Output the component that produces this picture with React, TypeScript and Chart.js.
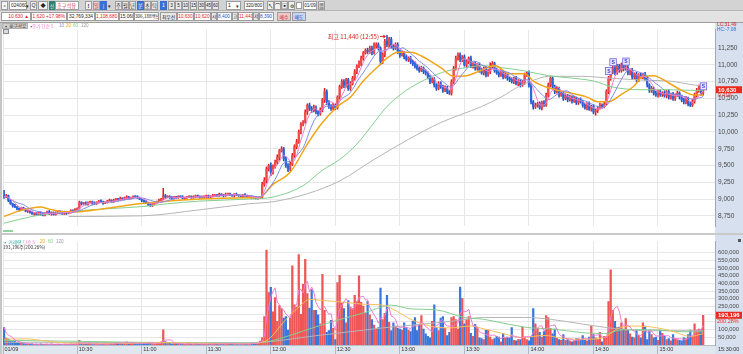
import React, { useEffect, useRef } from 'react';
import { Chart, registerables } from 'chart.js';

Chart.register(...registerables);

// ---------------- data ----------------
const STOCK_NAME = '흥구석유';
const STOCK_CODE = '024060';
const TIME_TICK_IDX = [-0.5, 34, 64, 94, 124, 154, 184, 214, 244, 274, 304];
const TIME_TICK_LABELS = ['01/09', '10:30', '11:00', '11:30', '12:00', '12:30', '13:00', '13:30', '14:00', '14:30', '15:00'];
const PRICE_TICKS = [8750, 9000, 9250, 9500, 9750, 10000, 10250, 10500, 10750, 11000, 11250];
const VOLUME_TICKS = [50000, 100000, 150000, 200000, 250000, 300000, 350000, 400000, 450000, 500000, 550000, 600000];
const HIDDEN_VOLUME_TICKS = [150000, 200000];

// 1-minute candles, prices in units of 10 won
const closes = [
  903, 905, 898, 893, 890, 888, 886, 884, 887, 885, 882,
  882, 880, 878, 879, 877, 880, 878, 876, 879, 881, 878, 880, 877, 879, 882, 880, 878, 881, 879, 880, 883,
  882, 884, 886,
  895,
  893, 894, 892, 895, 896, 894, 893, 895, 897, 896, 894, 895, 897, 898, 896,
  898, 900, 899, 901, 900, 902, 903, 901, 902, 904, 903, 902, 900, 898,
  896, 894, 892, 890, 893, 895, 896, 898,
  900, 905,
  903, 904, 902, 901, 903, 902, 904, 903, 901, 902, 903, 904, 902, 903, 905, 904, 902, 903, 904, 905, 903,
  904, 905, 906, 905, 907, 906, 905, 907, 908, 906, 905, 907, 906, 905, 904, 906, 905, 903, 904,
  903, 902, 901, 902, 903,
  922,
  928, 945, 950, 940, 948,
  955, 962, 972, 975,
  960, 950, 945, 952,
  965, 978, 985,
  1000, 1012, 1015,
  1030, 1040,
  1035, 1032, 1036, 1030, 1027, 1033,
  1048, 1060,
  1045, 1038, 1035, 1040, 1036,
  1052, 1068,
  1075, 1070, 1078, 1065, 1072, 1080,
  1090, 1098, 1102,
  1110, 1118, 1122, 1120,
  1125, 1118, 1128,
  1130, 1125,
  1105,
  1115, 1135,
  1130, 1138, 1128, 1125, 1130,
  1120, 1115, 1118, 1112, 1108, 1110, 1105, 1102,
  1098, 1095, 1092, 1095, 1090, 1088,
  1082, 1075, 1078, 1070, 1065, 1072, 1068,
  1062, 1066, 1060, 1058,
  1075, 1095, 1110, 1115,
  1108, 1112, 1100, 1105, 1110, 1098, 1102, 1095, 1100, 1092,
  1088, 1095, 1085, 1090, 1098, 1102,
  1092, 1088, 1085, 1090, 1082, 1086, 1080,
  1078, 1075, 1080, 1072, 1076, 1070, 1074,
  1085, 1088,
  1070, 1045, 1038,
  1040, 1042, 1036, 1044, 1040,
  1055, 1070, 1080,
  1068, 1060, 1065, 1055, 1058, 1050, 1054,
  1048, 1052, 1046, 1050, 1044, 1048, 1045,
  1040, 1036, 1042, 1034, 1038, 1030, 1032,
  1036, 1040, 1038, 1042,
  1060, 1080, 1090,
  1095, 1088, 1098, 1092, 1100, 1094, 1096,
  1088, 1092, 1082, 1086, 1078, 1085,
  1082, 1086, 1080,
  1070, 1062, 1065, 1058, 1055, 1060, 1056,
  1058, 1054, 1060, 1052, 1056, 1050, 1055, 1058, 1052,
  1048, 1045, 1050, 1042, 1040, 1046,
  1055, 1062, 1068, 1058, 1063,
];

const opens = [
  904, 903, 905, 898, 893, 890, 888, 886, 884, 887, 885,
  882, 882, 880, 878, 879, 877, 880, 878, 876, 879, 881, 878, 880, 877, 879, 882, 880, 878, 881, 879, 880,
  883, 882, 884,
  886,
  895, 893, 894, 892, 895, 896, 894, 893, 895, 897, 896, 894, 895, 897, 898,
  896, 898, 900, 899, 901, 900, 902, 903, 901, 902, 904, 903, 902, 900,
  898, 896, 894, 892, 890, 893, 895, 896,
  898, 900,
  905, 903, 904, 902, 901, 903, 902, 904, 903, 901, 902, 903, 904, 902, 903, 905, 904, 902, 903, 904, 905,
  903, 904, 905, 906, 905, 907, 906, 905, 907, 908, 906, 905, 907, 906, 905, 904, 906, 905, 903,
  904, 903, 902, 901, 902,
  903,
  922, 928, 945, 950, 940,
  948, 955, 962, 972,
  975, 960, 950, 945,
  952, 965, 978,
  985, 1000, 1012,
  1015, 1030,
  1040, 1035, 1032, 1036, 1030, 1027,
  1033, 1048,
  1060, 1045, 1038, 1035, 1040,
  1036, 1052,
  1068, 1075, 1070, 1078, 1065, 1072,
  1080, 1090, 1098,
  1102, 1110, 1118, 1122,
  1120, 1125, 1118,
  1128, 1130,
  1125,
  1105, 1115,
  1135, 1130, 1138, 1128, 1125,
  1130, 1120, 1115, 1118, 1112, 1108, 1110, 1105,
  1102, 1098, 1095, 1092, 1095, 1090,
  1088, 1082, 1075, 1078, 1070, 1065, 1072,
  1068, 1062, 1066, 1060,
  1058, 1075, 1095, 1110,
  1115, 1108, 1112, 1100, 1105, 1110, 1098, 1102, 1095, 1100,
  1092, 1088, 1095, 1085, 1090, 1098,
  1102, 1092, 1088, 1085, 1090, 1082, 1086,
  1080, 1078, 1075, 1080, 1072, 1076, 1070,
  1074, 1085,
  1088, 1070, 1045,
  1038, 1040, 1042, 1036, 1044,
  1040, 1055, 1070,
  1080, 1068, 1060, 1065, 1055, 1058, 1050,
  1054, 1048, 1052, 1046, 1050, 1044, 1048,
  1045, 1040, 1036, 1042, 1034, 1038, 1030,
  1032, 1036, 1040, 1038,
  1042, 1060, 1080,
  1090, 1095, 1088, 1098, 1092, 1100, 1094,
  1096, 1088, 1092, 1082, 1086, 1078,
  1085, 1082, 1086,
  1080, 1070, 1062, 1065, 1058, 1055, 1060,
  1056, 1058, 1054, 1060, 1052, 1056, 1050, 1055, 1058,
  1052, 1048, 1045, 1050, 1042, 1040,
  1046, 1055, 1062, 1068, 1058,
];

// wick lengths above / below the body, units of 10 won
const wickUp = [
  9, 2, 1, 1, 1, 2, 1, 1, 1, 1, 1, 1, 1, 2, 1, 1, 1, 1, 2, 1, 1, 2, 1, 1, 2, 1, 1, 2, 1, 1,
  1, 1, 1, 2, 1, 2, 1, 1, 2, 1, 1, 1, 2, 1, 1, 2, 1, 1, 1, 2, 1, 2, 1, 1, 2, 1, 1, 2, 1, 1,
  1, 1, 2, 1, 1, 1, 2, 1, 1, 1, 1, 1, 2, 1, 11, 2, 1, 1, 2, 1, 1, 1, 1, 2, 1, 1, 1, 1, 2, 1,
  1, 1, 2, 1, 1, 1, 1, 2, 1, 1, 2, 1, 1, 2, 1, 1, 1, 1, 2, 1, 1, 1, 2, 1, 1, 1, 1, 2, 1, 1,
  3, 4, 3, 2, 4, 3, 3, 4, 2, 3, 2, 3, 3, 4, 3, 3, 4, 3, 2, 2, 3, 2, 3, 3, 4, 3, 2, 3, 2, 5,
  3, 2, 3, 3, 2, 2, 2, 3, 3, 2, 2, 3, 3, 3, 2, 4, 3, 2, 2, 3, 3, 3, 5, 3, 3, 2, 3, 3, 9, 3,
  3, 2, 3, 3, 2, 3, 2, 3, 2, 3, 2, 3, 3, 2, 3, 2, 3, 2, 3, 3, 3, 2, 3, 3, 2, 3, 2, 2, 3, 3,
  3, 3, 3, 2, 3, 3, 2, 3, 2, 3, 2, 3, 3, 2, 3, 3, 5, 3, 2, 3, 2, 3, 2, 3, 2, 2, 3, 2, 3, 2,
  2, 3, 3, 2, 3, 3, 2, 3, 2, 3, 2, 3, 3, 3, 3, 3, 2, 3, 2, 3, 2, 3, 2, 3, 2, 3, 2, 2, 3, 2,
  3, 2, 3, 2, 3, 2, 2, 3, 2, 3, 3, 3, 3, 3, 4, 3, 3, 3, 2, 3, 3, 2, 3, 2, 3, 2, 3, 2, 3, 2,
  2, 3, 2, 3, 2, 3, 2, 3, 2, 3, 2, 3, 2, 3, 2, 3, 2, 3, 2, 3, 3, 3, 3, 2, 3, 2,
];
const wickDown = [
  2, 1, 2, 1, 2, 1, 2, 1, 1, 1, 1, 2, 1, 1, 2, 1, 1, 2, 1, 1, 1, 1, 2, 1, 1, 1, 2, 1, 1, 2,
  1, 1, 2, 1, 1, 1, 2, 1, 1, 1, 1, 2, 1, 1, 1, 1, 2, 1, 1, 1, 1, 1, 1, 2, 1, 1, 1, 2, 1, 1,
  1, 1, 1, 1, 2, 1, 1, 2, 1, 1, 1, 1, 1, 2, 1, 2, 1, 1, 1, 1, 1, 1, 1, 1, 2, 1, 1, 1, 1, 1,
  1, 1, 1, 1, 2, 1, 1, 1, 1, 1, 1, 1, 2, 1, 1, 1, 1, 2, 1, 1, 1, 2, 1, 1, 1, 2, 1, 1, 1, 1,
  1, 3, 4, 3, 5, 3, 2, 3, 4, 2, 3, 3, 4, 3, 2, 3, 3, 2, 3, 3, 2, 4, 3, 3, 2, 3, 3, 2, 3, 4,
  4, 3, 3, 2, 3, 2, 3, 3, 4, 3, 3, 3, 2, 3, 3, 2, 3, 3, 2, 3, 3, 3, 2, 3, 3, 5, 3, 3, 3, 4,
  3, 3, 2, 3, 4, 2, 3, 2, 3, 3, 3, 3, 3, 3, 2, 3, 3, 3, 3, 2, 3, 3, 2, 3, 3, 2, 3, 2, 3, 3,
  3, 3, 3, 3, 2, 3, 3, 2, 3, 3, 3, 3, 2, 3, 3, 2, 3, 3, 3, 2, 3, 2, 3, 2, 3, 3, 2, 3, 2, 3,
  3, 2, 3, 2, 3, 3, 4, 3, 3, 2, 3, 2, 2, 3, 3, 3, 3, 2, 3, 2, 3, 2, 3, 2, 3, 2, 3, 3, 2, 3,
  2, 3, 2, 3, 3, 5, 3, 2, 3, 2, 2, 3, 3, 3, 3, 2, 3, 3, 3, 2, 3, 3, 3, 3, 3, 3, 2, 3, 3, 3,
  3, 3, 3, 2, 3, 3, 3, 2, 3, 3, 3, 3, 3, 2, 3, 3, 3, 3, 3, 2, 2, 3, 3, 3, 3, 3,
];

// volume per minute, thousands of shares
const volumes = [
  113, 45, 38, 30, 22, 26, 15, 12, 14, 9, 8,
  6, 5, 7, 4, 6, 5, 8, 4, 5, 6, 3, 7, 5, 4, 6, 5, 3, 6, 4, 5, 7, 4, 6, 8,
  30,
  12, 8, 6, 9, 7, 5, 6, 8, 5, 4, 6, 7, 5, 9, 6,
  10, 14, 18, 12, 9, 16, 20, 8, 12, 15, 10, 7, 11, 9,
  14, 12, 18, 16, 10, 8, 9, 11,
  20, 98,
  22, 15, 12, 8, 10, 7, 9, 6, 8, 5, 7, 9, 6, 5, 8, 6, 4, 7, 5, 6, 8,
  6, 9, 7, 5, 8, 6, 10, 12, 7, 5, 8, 6, 9, 7, 5, 8, 6, 7, 9,
  12, 15, 10, 18, 26,
  49, 185,
  617, 340, 375, 216, 309, 154, 257, 237, 175, 185,
  97, 175, 515, 261, 247, 587, 200, 395, 556, 335,
  240,
  360, 226, 226, 196, 138, 459, 226, 82, 93, 161,
  109, 35, 405, 453, 272, 237, 144, 288, 247, 237,
  323, 282, 449, 278, 253, 206, 282, 196, 165, 130,
  103, 113, 370, 165, 206, 323, 148, 93, 144, 123,
  110,
  103, 97, 144, 113, 97, 88, 154, 179, 93, 134,
  191, 103, 72, 56, 47, 154, 261, 113, 93, 175,
  185, 109, 62, 82, 179, 185, 165, 103, 377, 303,
  138, 165, 185, 76, 56, 134, 117, 47, 41, 35,
  97, 97, 51, 35, 41, 56, 51, 21, 76, 47,
  51, 47, 113, 31, 27, 35, 35, 117, 51, 35,
  27, 51, 237, 138, 109, 82, 51, 88, 191, 179,
  109, 72, 103, 47, 35, 31, 68, 31, 35, 27,
  21, 27, 41, 41, 35, 62, 31, 27, 51, 123,
  68, 47, 35, 82, 21, 56, 56, 282, 488, 226,
  154, 113, 117, 144, 103, 171, 97, 72, 51, 47,
  97, 62, 47, 144, 123, 35, 93, 68, 47, 51,
  31, 97, 76, 56, 35, 41, 27, 68, 41, 35,
  31, 27, 47, 41, 68, 97, 56, 138, 97, 103,
  100, 193,
];

// moving-average lines: [bar index, value]
const priceMa20 = [[0, 874], [7, 882], [17, 888], [21, 885], [29, 881], [34, 881], [45, 885], [60, 892], [73, 896], [91, 900], [114, 902], [119, 903], [125, 922], [133, 940], [141, 982], [147, 1010], [155, 1038], [161, 1052], [167, 1076], [174, 1098], [178, 1110], [183, 1119], [189, 1119], [197, 1108], [203, 1096], [209, 1083], [215, 1084], [222, 1092], [228, 1099], [235, 1087], [242, 1087], [246, 1076], [253, 1066], [262, 1059], [271, 1052], [276, 1045], [281, 1045], [287, 1056], [293, 1069], [297, 1083], [302, 1084], [309, 1073], [315, 1062], [321, 1055], [325, 1055]];
const priceMa60 = [[0, 864], [13, 874], [29, 881], [45, 885], [65, 889], [76, 893], [91, 897], [114, 900], [125, 903], [139, 920], [148, 943], [156, 959], [164, 982], [172, 1014], [178, 1038], [187, 1062], [197, 1080], [206, 1091], [215, 1096], [222, 1099], [231, 1096], [242, 1091], [253, 1084], [262, 1081], [274, 1076], [283, 1067], [296, 1063], [309, 1063], [321, 1062], [325, 1062]];
const priceMa120 = [[30, 874], [64, 875], [91, 884], [114, 893], [125, 896], [141, 908], [156, 927], [172, 959], [188, 989], [203, 1014], [222, 1038], [231, 1052], [240, 1069], [246, 1077], [253, 1083], [268, 1083], [283, 1080], [299, 1077], [309, 1076], [321, 1070], [325, 1069]];
const volMa20 = [[0, 38], [10, 40], [20, 25], [30, 12], [45, 9], [60, 11], [75, 15], [90, 12], [110, 8], [119, 14], [124, 50], [130, 150], [138, 259], [142, 296], [148, 290], [158, 278], [167, 265], [176, 259], [183, 216], [189, 167], [198, 123], [207, 111], [217, 123], [223, 105], [232, 74], [241, 49], [251, 62], [260, 43], [269, 37], [279, 49], [285, 105], [291, 123], [301, 117], [310, 93], [319, 56], [325, 74]];
const volMa60 = [[0, 30], [30, 25], [60, 18], [90, 14], [114, 12], [122, 20], [130, 49], [146, 123], [158, 173], [169, 216], [180, 259], [189, 235], [201, 228], [214, 179], [223, 167], [232, 142], [245, 111], [254, 105], [269, 80], [279, 74], [288, 99], [301, 99], [316, 86], [325, 86]];
const volMa120 = [[0, 18], [60, 16], [114, 15], [146, 62], [176, 111], [208, 154], [223, 179], [242, 179], [254, 167], [269, 136], [285, 105], [301, 93], [325, 93]];

const HIGH_IDX = 178;
const HIGH_PRICE = 11440;
const HIGH_LABEL = '최고 11,440 (12:55)';
const SIGNAL_IDX = [281, 283, 289, 325];
const SIGNAL_PRICE = [10910, 11040, 11050, 10680];
const LAST_PRICE = 10630;
const LAST_PRICE_LABEL = '10,630';
const LAST_PRICE_PCT = '0.41%';
const LAST_VOLUME = 193196;
const LAST_VOLUME_LABEL = '193,196';
const LAST_VOLUME_PCT = '200.28%';

// ---------------- styling ----------------
const FONT = '"Noto Sans CJK KR", "Liberation Sans", sans-serif';
const NUM_FONT = '"Liberation Sans", "DejaVu Sans", sans-serif';
const C_MA5 = '#f07ccf';
const C_MA10 = '#7e8be6';
const C_MA20 = '#f2a516';
const C_MA60 = '#84cf8e';
const C_MA120 = '#b5b5b5';
const UP_BODY = '#f04b4b';
const UP_WICK = '#e21a1a';
const DN_BODY = '#2b67d9';
const DN_WICK = '#1c50c2';
const GRID = '#e7e7e7';
const AXIS_BG = '#d6e0ee';

Chart.defaults.font.family = NUM_FONT;

function movingAverage(vals: number[], n: number): number[] {
  return vals.map((_, i) => {
    const s = Math.max(0, i - n + 1);
    let sum = 0;
    for (let k = s; k <= i; k++) sum += vals[k];
    return sum / (i - s + 1);
  });
}

const fmt = (v: number) => Number(v).toLocaleString('en-US');
const isUp = closes.map((c, i) => c >= opens[i]);

function lineDs(label: string, data: any[], color: string, width = 1, smooth = false) {
  return {
    type: 'line', label, data, borderColor: color, borderWidth: width, pointRadius: 0,
    fill: false, order: 0, tension: 0, cubicInterpolationMode: smooth ? 'monotone' : 'default',
  };
}

const xCommon = {
  type: 'linear', min: -0.5, max: 330.5, offset: false,
  afterBuildTicks: (s: any) => { s.ticks = TIME_TICK_IDX.map((v) => ({ value: v })); },
};

function priceConfig(): any {
  const ma5 = movingAverage(closes, 5).map((v, i) => ({ x: i, y: v * 10 }));
  const ma10 = movingAverage(closes, 10).map((v, i) => ({ x: i, y: v * 10 }));
  const pts = (arr: number[][]) => arr.map(([i, v]) => ({ x: i, y: v * 10 }));
  const overlay = {
    id: 'priceOverlay',
    afterDatasetsDraw(chart: any) {
      const { ctx, scales, chartArea } = chart;
      const x = scales.x, y = scales.y;
      ctx.save();
      // high annotation
      const hx = x.getPixelForValue(HIGH_IDX);
      const hy = y.getPixelForValue(HIGH_PRICE) + 1;
      ctx.fillStyle = '#e0201a';
      ctx.strokeStyle = '#e0201a';
      ctx.font = `6px ${FONT}`;
      ctx.textAlign = 'right';
      ctx.textBaseline = 'middle';
      ctx.fillText(HIGH_LABEL, hx - 8, hy);
      ctx.lineWidth = 1;
      ctx.beginPath(); ctx.moveTo(hx - 7, hy); ctx.lineTo(hx - 2, hy); ctx.stroke();
      ctx.beginPath(); ctx.moveTo(hx - 1, hy); ctx.lineTo(hx - 3.5, hy - 2); ctx.lineTo(hx - 3.5, hy + 2); ctx.closePath(); ctx.fill();
      // signal markers
      SIGNAL_IDX.forEach((si, k) => {
        const sx = x.getPixelForValue(si);
        const sy = y.getPixelForValue(SIGNAL_PRICE[k]);
        ctx.fillStyle = '#ece9ff';
        ctx.fillRect(sx - 3, sy - 3.5, 6.5, 7);
        ctx.strokeStyle = '#6b62d6';
        ctx.lineWidth = 0.8;
        ctx.strokeRect(sx - 3, sy - 3.5, 6.5, 7);
        ctx.fillStyle = '#3b3bd0';
        ctx.font = `bold 5px ${NUM_FONT}`;
        ctx.textAlign = 'center';
        ctx.fillText('S', sx + 0.3, sy + 0.3);
      });
      // current price tag
      const py = y.getPixelForValue(LAST_PRICE);
      const left = chartArea.right + 1;
      ctx.fillStyle = '#ea2a20';
      ctx.fillRect(left, py - 3.5, 26, 7);
      ctx.fillStyle = '#ffffff';
      ctx.font = `bold 6px ${NUM_FONT}`;
      ctx.textAlign = 'left';
      ctx.fillText(LAST_PRICE_LABEL, left + 2, py + 0.3);
      ctx.fillStyle = '#e8322a';
      ctx.font = `5px ${NUM_FONT}`;
      ctx.fillText(LAST_PRICE_PCT, left + 2, py + 5.8);
      ctx.restore();
    },
  };
  return {
    type: 'bar',
    data: {
      datasets: [
        lineDs('MA5', ma5, C_MA5),
        lineDs('MA10', ma10, C_MA10),
        lineDs('MA20', pts(priceMa20), C_MA20, 1.5, true),
        lineDs('MA60', pts(priceMa60), C_MA60, 1, true),
        lineDs('MA120', pts(priceMa120), C_MA120, 1, true),
        {
          type: 'bar', label: 'body', grouped: false, order: 5, barThickness: 1.6, minBarLength: 1,
          data: closes.map((c, i) => ({ x: i, y: [Math.min(opens[i], c) * 10, Math.max(opens[i], c) * 10] })),
          backgroundColor: isUp.map((u) => (u ? UP_BODY : DN_BODY)),
        },
        {
          type: 'bar', label: 'wick', grouped: false, order: 6, barThickness: 0.9,
          data: closes.map((c, i) => ({
            x: i,
            y: [(Math.min(opens[i], c) - wickDown[i]) * 10, (Math.max(opens[i], c) + wickUp[i]) * 10],
          })),
          backgroundColor: isUp.map((u) => (u ? UP_WICK : DN_WICK)),
        },
      ],
    },
    options: {
      animation: false, responsive: false, maintainAspectRatio: false, events: [],
      layout: { padding: { left: 3, right: 0, top: 0, bottom: 0 } },
      plugins: { legend: { display: false }, tooltip: { enabled: false } },
      scales: {
        x: {
          ...xCommon,
          grid: { color: GRID, drawTicks: false, offset: false },
          border: { display: false },
          ticks: { display: false },
          afterFit: (s: any) => { s.height = 0; },
        },
        y: {
          position: 'right', min: 8597, max: 11522,
          afterBuildTicks: (s: any) => { s.ticks = PRICE_TICKS.map((v) => ({ value: v })); },
          afterFit: (s: any) => { s.width = 28; },
          grid: { color: GRID, drawTicks: false },
          border: { display: true, color: '#9aa9be' },
          ticks: { autoSkip: false, padding: 3, color: '#4a4a4a', font: { size: 6.5, family: NUM_FONT }, callback: (v: number) => fmt(v) },
        },
      },
    },
    plugins: [overlay],
  };
}

function volumeConfig(): any {
  const ma5 = movingAverage(volumes, 5).map((v, i) => ({ x: i, y: v * 1000 }));
  const pts = (arr: number[][]) => arr.map(([i, v]) => ({ x: i, y: v * 1000 }));
  const overlay = {
    id: 'volOverlay',
    afterDatasetsDraw(chart: any) {
      const { ctx, scales, chartArea } = chart;
      const vy = scales.y.getPixelForValue(LAST_VOLUME);
      const left = chartArea.right + 1;
      ctx.save();
      ctx.fillStyle = '#ea2a20';
      ctx.fillRect(left, vy - 3.5, 26, 7);
      ctx.fillStyle = '#ffffff';
      ctx.font = `bold 6px ${NUM_FONT}`;
      ctx.textAlign = 'left';
      ctx.textBaseline = 'middle';
      ctx.fillText(LAST_VOLUME_LABEL, left + 2, vy + 0.3);
      ctx.fillStyle = '#e8322a';
      ctx.font = `5.5px ${NUM_FONT}`;
      ctx.fillText(LAST_VOLUME_PCT, left + 1, vy + 6.5);
      ctx.restore();
    },
  };
  return {
    type: 'bar',
    data: {
      datasets: [
        lineDs('V5', ma5, C_MA5),
        lineDs('V20', pts(volMa20), '#f6c15a', 1, true),
        lineDs('V60', pts(volMa60), C_MA60, 1, true),
        lineDs('V120', pts(volMa120), C_MA120, 1, true),
        {
          type: 'bar', label: 'volume', grouped: false, order: 5, barThickness: 1.6,
          data: volumes.map((v, i) => ({ x: i, y: v * 1000 })),
          backgroundColor: isUp.map((u) => (u ? '#ef5656' : '#3a77db')),
        },
      ],
    },
    options: {
      animation: false, responsive: false, maintainAspectRatio: false, events: [],
      layout: { padding: { left: 3, right: 0, top: 1, bottom: 0 } },
      plugins: { legend: { display: false }, tooltip: { enabled: false } },
      scales: {
        x: {
          ...xCommon,
          grid: { color: GRID, drawTicks: true, tickLength: 9, tickColor: '#aeb8c6', offset: false },
          border: { display: true, color: '#b3bdca' },
          afterFit: (s: any) => { s.height = 9; },
          ticks: {
            autoSkip: false, maxRotation: 0, minRotation: 0, align: 'start', padding: -8, labelOffset: 1.5,
            color: '#333', font: { size: 5.5, family: NUM_FONT },
            callback: (v: number) => {
              const k = TIME_TICK_IDX.indexOf(v);
              return k >= 0 ? TIME_TICK_LABELS[k] : '';
            },
          },
        },
        y: {
          position: 'right', min: 0, max: 672800,
          afterBuildTicks: (s: any) => { s.ticks = VOLUME_TICKS.map((v) => ({ value: v })); },
          afterFit: (s: any) => { s.width = 28; },
          grid: { color: GRID, drawTicks: false },
          border: { display: true, color: '#9aa9be' },
          ticks: {
            autoSkip: false, padding: 3, color: '#4a4a4a', font: { size: 5.8, family: NUM_FONT },
            callback: (v: number) => (HIDDEN_VOLUME_TICKS.includes(v) ? '' : fmt(v)),
          },
        },
      },
    },
    plugins: [overlay],
  };
}

// ---------------- DOM helpers ----------------
function Box(p: any) {
  const { l, t, w, h, bg = '#fff', bd = '#9c9c9c', c = '#222', fs = 5.2, ff = FONT, fw = 'normal', ta = 'center', children } = p;
  return (
    <div
      style={{
        position: 'absolute', left: l, top: t, width: w, height: h, background: bg,
        border: bd ? `1px solid ${bd}` : 'none', boxSizing: 'border-box', color: c, fontSize: fs,
        lineHeight: `${h - 2}px`, textAlign: ta, fontFamily: ff, fontWeight: fw, overflow: 'hidden',
        whiteSpace: 'nowrap', paddingLeft: ta === 'left' ? 1 : 0, paddingRight: ta === 'right' ? 1 : 0,
      }}
    >
      {children}
    </div>
  );
}

function Txt(p: any) {
  const { l, t, c = '#222', fs = 5, ff = FONT, fw = 'normal', children } = p;
  return (
    <div style={{ position: 'absolute', left: l, top: t, color: c, fontSize: fs, fontFamily: ff, fontWeight: fw, lineHeight: 1, whiteSpace: 'nowrap' }}>
      {children}
    </div>
  );
}

const BLUE_BTN = '#3a6fd0';
const GRAY_BTN = '#e9e9e9';

export default function App() {
  const priceRef = useRef<HTMLCanvasElement>(null);
  const volRef = useRef<HTMLCanvasElement>(null);

  useEffect(() => {
    const pc = new Chart(priceRef.current as HTMLCanvasElement, priceConfig());
    const vc = new Chart(volRef.current as HTMLCanvasElement, volumeConfig());
    return () => { pc.destroy(); vc.destroy(); };
  }, []);

  const periods = [['3', 168], ['5', 175], ['10', 182], ['15', 190], ['30', 198], ['45', 205], ['60', 212]];

  return (
    <div style={{ position: 'absolute', left: 0, top: 0, width: 743, height: 354, background: '#fff', overflow: 'hidden', fontFamily: FONT }}>
      {/* toolbar row 1 */}
      <div style={{ position: 'absolute', left: 0, top: 0, width: 743, height: 11, background: '#d3d3d3', borderBottom: '1px solid #b4b4b4', boxSizing: 'border-box' }} />
      <Box l={1} t={1} w={7} h={9} bg="#f4f4f4">▫</Box>
      <Box l={9} t={1} w={18} h={9} ta="left" ff={NUM_FONT} fs={4.8}>{STOCK_CODE}</Box>
      <Txt l={26} t={3} fs={5}>▾</Txt>
      <Box l={30} t={1} w={7} h={9} bg="#f0f0f0" ff={NUM_FONT}>Q</Box>
      <Box l={38} t={1} w={10} h={9} bg="#f0f0f0">◆</Box>
      <Box l={49} t={1} w={6} h={9} bg="#2f7f72" c="#fff" bd="#2f7f72" fs={4.8}>신</Box>
      <Box l={55} t={1} w={24} h={9} ta="left" c="#c2304c">{STOCK_NAME}</Box>
      <Box l={85} t={1} w={7} h={9} bg="#f0f0f0" fw="bold">!</Box>
      <Box l={93} t={1} w={7} h={9} bg="#f2d2d2" c="#b03030">일</Box>
      <Box l={100} t={1} w={7} h={9} bg={BLUE_BTN} bd={BLUE_BTN} c="#fff">|</Box>
      <Txt l={108} t={3} fs={5}>▾</Txt>
      <Box l={115} t={1} w={7} h={9} bg={GRAY_BTN}>주</Box>
      <Box l={122} t={1} w={7} h={9} bg={GRAY_BTN}>월</Box>
      <Box l={129} t={1} w={7} h={9} bg={GRAY_BTN}>년</Box>
      <Box l={137} t={1} w={7} h={9} bg={BLUE_BTN} bd={BLUE_BTN} c="#fff">분</Box>
      <Box l={144} t={1} w={7} h={9} bg={GRAY_BTN}>초</Box>
      <Box l={151} t={1} w={7} h={9} bg={GRAY_BTN}>틱</Box>
      <Box l={160} t={1} w={7} h={9} bg={BLUE_BTN} bd={BLUE_BTN} c="#fff" ff={NUM_FONT}>1</Box>
      {periods.map(([lab, l]) => (
        <Box key={lab as string} l={l} t={1} w={7} h={9} bg={GRAY_BTN} ff={NUM_FONT} fs={4.6}>{lab}</Box>
      ))}
      <Box l={226} t={1} w={15} h={9} ta="left" ff={NUM_FONT}>1</Box>
      <Txt l={236} t={3} fs={5}>▾</Txt>
      <Box l={244} t={1} w={20} h={9} ff={NUM_FONT} fs={4.6}>320/800</Box>
      <Box l={267} t={1} w={7} h={9} bg="#f0f0f0">↖</Box>
      <Box l={274} t={1} w={7} h={9} bg="#f0f0f0">⌒</Box>
      <Box l={281} t={1} w={7} h={9} bg="#f0f0f0">▣</Box>
      <Box l={288} t={1} w={7} h={9} bg="#f0f0f0">⚙</Box>
      <Box l={296} t={2} w={6} h={7} />
      <Box l={303} t={1} w={14} h={9} ff={NUM_FONT} fs={4.6}>01/09</Box>
      <Box l={318} t={1} w={7} h={9} bg="#f0f0f0">▦</Box>

      {/* toolbar row 2 */}
      <div style={{ position: 'absolute', left: 0, top: 11, width: 743, height: 12, background: '#e2e2e2', borderBottom: '1px solid #9e9e9e', boxSizing: 'border-box' }} />
      <Box l={1} t={12} w={30} h={9} ta="right" c="#e0201a" ff={NUM_FONT} fs={4.8}>10,630 ▲</Box>
      <Box l={31} t={12} w={36} h={9} ta="right" c="#e0201a" ff={NUM_FONT} fs={4.8}>1,620 +17.98%</Box>
      <Box l={67} t={12} w={28} h={9} ta="right" ff={NUM_FONT} fs={4.8}>32,769,334</Box>
      <Box l={95} t={12} w={24} h={9} ta="right" c="#e0201a" ff={NUM_FONT} fs={4.8}>1,108,680</Box>
      <Box l={119} t={12} w={15} h={9} ta="right" ff={NUM_FONT} fs={4.8}>15,060</Box>
      <Box l={134} t={12} w={25} h={9} ta="right" fs={4.6}>306,188백만</Box>
      <Box l={160} t={12} w={17} h={9} bg="#e8e8e8" fs={4.8}>최우선</Box>
      <Box l={177} t={12} w={17} h={9} ta="right" c="#e0201a" ff={NUM_FONT} fs={4.8}>10,630</Box>
      <Box l={194} t={12} w={17} h={9} ta="right" c="#e0201a" ff={NUM_FONT} fs={4.8}>10,620</Box>
      <Box l={211} t={12} w={6} h={9} bg="#e8e8e8" fs={4.6}>시</Box>
      <Box l={217} t={12} w={15} h={9} ta="right" c="#2050d0" ff={NUM_FONT} fs={4.8}>8,400</Box>
      <Box l={232} t={12} w={6} h={9} bg="#e8e8e8" fs={4.6}>고</Box>
      <Box l={238} t={12} w={15} h={9} ta="right" c="#e0201a" ff={NUM_FONT} fs={4.8}>11,440</Box>
      <Box l={253} t={12} w={6} h={9} bg="#e8e8e8" fs={4.6}>저</Box>
      <Box l={259} t={12} w={15} h={9} ta="right" c="#2050d0" ff={NUM_FONT} fs={4.8}>8,390</Box>
      <Box l={277} t={12} w={14} h={9} bg="#f5c4c4" c="#c02020" fs={4.8}>매수</Box>
      <Box l={292} t={12} w={14} h={9} bg="#c4d5f5" c="#2040b0" fs={4.8}>매도</Box>

      {/* panel backgrounds */}
      <div style={{ position: 'absolute', left: 715, top: 23, width: 28, height: 331, background: AXIS_BG }} />
      <div style={{ position: 'absolute', left: 0, top: 345, width: 715, height: 9, background: '#e0e7ef' }} />
      <div style={{ position: 'absolute', left: 0, top: 23, width: 2, height: 331, background: '#c6c6c6' }} />

      <canvas ref={priceRef} width={743} height={210} style={{ position: 'absolute', left: 0, top: 23, width: 743, height: 210 }} />
      <div style={{ position: 'absolute', left: 0, top: 233, width: 743, height: 2, background: '#c9c9c9' }} />
      <canvas ref={volRef} width={743} height={119} style={{ position: 'absolute', left: 0, top: 235, width: 743, height: 119 }} />

      {/* price legend */}
      <Box l={2} t={23} w={26} h={6} bg="#cfcfcf" bd="#b0b0b0" fs={4.6} c="#333">▪ {STOCK_NAME}</Box>
      <Txt l={29} t={24} fs={4.6} c="#666">▪</Txt>
      <Txt l={32} t={24} fs={4.6} c={C_MA5}>종가 단순 5</Txt>
      <Txt l={59} t={24} fs={4.6} c={C_MA10} ff={NUM_FONT}>10</Txt>
      <Txt l={66} t={24} fs={4.6} c={C_MA20} ff={NUM_FONT}>20</Txt>
      <Txt l={73} t={24} fs={4.6} c={C_MA60} ff={NUM_FONT}>60</Txt>
      <Txt l={81} t={24} fs={4.6} c="#999" ff={NUM_FONT}>120</Txt>
      <Box l={3} t={29} w={6} h={5} bg="#dcdcdc" bd="#8c8c8c" />
      <div style={{ position: 'absolute', left: 3, top: 230, width: 10, height: 2, background: '#90d39e' }} />

      {/* top-right indicators */}
      <Txt l={717} t={23} fs={4.8} c="#e0201a" ff={NUM_FONT}>LC:31.49</Txt>
      <Txt l={717} t={28} fs={4.8} c="#2e6fd6" ff={NUM_FONT}>HC:-7.08</Txt>

      {/* volume legend */}
      <Txt l={3} t={240} fs={4.6} c="#3aa6a6">▪ 거래량</Txt>
      <Txt l={23} t={240} fs={4.6} c={C_MA5}>단순 5</Txt>
      <Txt l={40} t={240} fs={4.6} c={C_MA20} ff={NUM_FONT}>20</Txt>
      <Txt l={48} t={240} fs={4.6} c={C_MA60} ff={NUM_FONT}>60</Txt>
      <Txt l={56} t={240} fs={4.6} c="#999" ff={NUM_FONT}>120</Txt>
      <Txt l={3} t={245} fs={4.6} c="#333">193,196주(200.28%)</Txt>
      <div style={{ position: 'absolute', left: 738, top: 239, width: 3, height: 3, background: '#555' }} />

      <Txt l={718} t={347} fs={5.5} c="#333" ff={NUM_FONT}>15:30:00</Txt>
    </div>
  );
}
